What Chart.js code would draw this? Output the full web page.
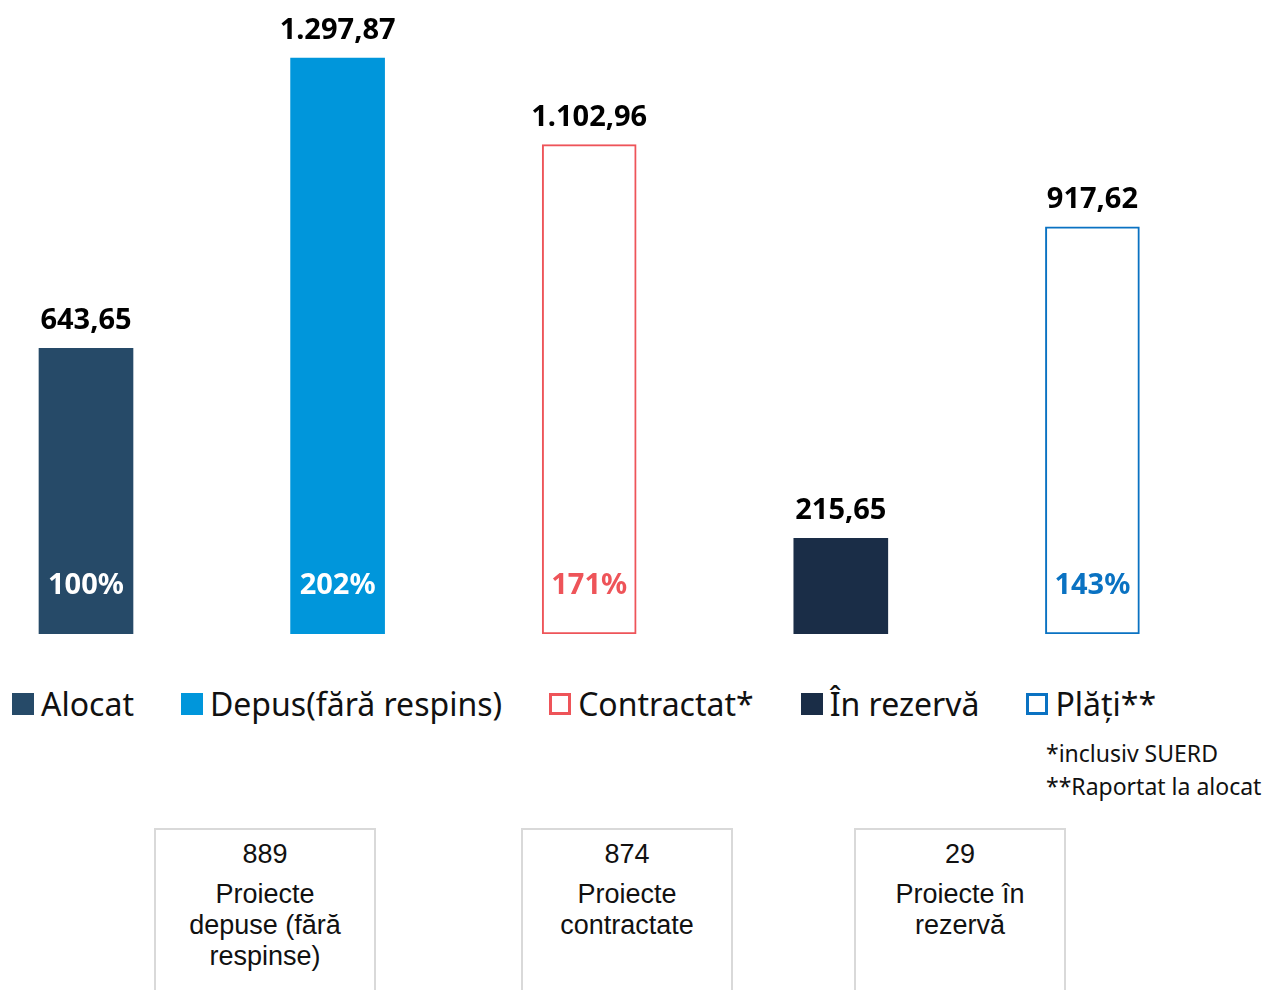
<!DOCTYPE html>
<html>
<head>
<meta charset="utf-8">
<script src="https://cdn.jsdelivr.net/npm/chart.js@4.4.1/dist/chart.umd.min.js"></script>
<style>
  html, body { margin: 0; padding: 0; background: #fff; overflow: hidden; }
  body { width: 1280px; height: 990px; position: relative; font-family: "Noto Sans", sans-serif; }
  #wrap { position: absolute; left: 0; top: 0; width: 1280px; height: 640px; }
  #legend { position: absolute; left: 12px; top: 682px; display: flex; gap: 47px; align-items: center; }
  .item { display: flex; align-items: center; gap: 7px; font-size: 32px; color: #111; line-height: 44px; }
  .sw { width: 22px; height: 22px; box-sizing: border-box; }
  #notes { position: absolute; left: 1046px; top: 737px; font-size: 23px; line-height: 33px; color: #111; }
  .box { position: absolute; top: 828px; height: 200px; border: 2px solid #d9d9d9; box-sizing: border-box;
         font-family: "Liberation Sans", Arial, sans-serif; font-size: 27px; line-height: 31px; text-align: center;
         color: #111; padding-top: 9px; }
  .box .num { margin-bottom: 9px; }
</style>
</head>
<body>
<div id="wrap"><canvas id="chart"></canvas></div>
<div id="legend"></div>
<div id="notes"><div>*inclusiv SUERD</div><div>**Raportat la alocat</div></div>
<div id="boxes"></div>
<script>
// datele graficului
const categories = ["Alocat", "Depus(fără respins)", "Contractat*", "În rezervă", "Plăți**"];
const values = [643.65, 1297.87, 1102.96, 215.65, 917.62];
const percents = [100, 202, 171, null, 143];
const fillColors = ["#264a68", "#0096db", "#ffffff", "#1a2d47", "#ffffff"];
const borderColors = ["#264a68", "#0096db", "#ee5459", "#1a2d47", "#0a72c2"];
const percentColors = ["#ffffff", "#ffffff", "#ee5459", "#ffffff", "#0a72c2"];
const borderWidths = [0, 0, 2, 0, 2];

const projectCounts = [889, 874, 29];
const projectLabels = ["Proiecte<br>depuse (fără<br>respinse)", "Proiecte<br>contractate", "Proiecte în<br>rezervă"];

function formatRo(v) {
  const parts = v.toFixed(2).split(".");
  const intPart = parts[0].replace(/\B(?=(\d{3})+(?!\d))/g, ".");
  return intPart + "," + parts[1];
}

// etichete cu valori deasupra si procente in interiorul barelor
const labelsPlugin = {
  id: "barLabels",
  afterDatasetsDraw(chart) {
    const ctx = chart.ctx;
    const meta = chart.getDatasetMeta(0);
    const zeroY = chart.scales.y.getPixelForValue(0);
    ctx.save();
    ctx.textAlign = "center";
    ctx.textBaseline = "alphabetic";
    ctx.font = "bold 29px 'Noto Sans'";
    meta.data.forEach((bar, i) => {
      ctx.fillStyle = "#000";
      ctx.fillText(formatRo(values[i]), bar.x, bar.y - 19);
      if (percents[i] !== null) {
        ctx.fillStyle = percentColors[i];
        ctx.fillText(percents[i] + "%", bar.x, zeroY - 40);
      }
    });
    ctx.restore();
  }
};

new Chart(document.getElementById("chart"), {
  type: "bar",
  data: {
    datasets: [{
      data: values.map((v, i) => ({ x: i, y: v })),
      backgroundColor: fillColors,
      borderColor: borderColors,
      borderWidth: borderWidths,
      barThickness: 94,
      borderSkipped: false
    }]
  },
  options: {
    responsive: true,
    maintainAspectRatio: false,
    animation: false,
    layout: { padding: { top: 0, bottom: 6, left: 0, right: 0 } },
    scales: {
      x: { type: "linear", min: -0.3418, max: 4.7456, offset: false, display: false },
      y: { min: 0, max: 1429, display: false }
    },
    plugins: { legend: { display: false }, tooltip: { enabled: false } }
  },
  plugins: [labelsPlugin]
});

// legenda
const legend = document.getElementById("legend");
categories.forEach((c, i) => {
  const item = document.createElement("div");
  item.className = "item";
  const sw = document.createElement("span");
  sw.className = "sw";
  if (borderWidths[i] > 0) {
    sw.style.border = "3px solid " + borderColors[i];
    sw.style.background = "#fff";
  } else {
    sw.style.background = fillColors[i];
  }
  const txt = document.createElement("span");
  txt.textContent = c;
  item.appendChild(sw);
  item.appendChild(txt);
  legend.appendChild(item);
});

// casetele cu numarul de proiecte
const boxLefts = [154, 521, 854];
const boxWidths = [222, 212, 212];
const boxes = document.getElementById("boxes");
projectCounts.forEach((n, i) => {
  const b = document.createElement("div");
  b.className = "box";
  b.style.left = boxLefts[i] + "px";
  b.style.width = boxWidths[i] + "px";
  b.innerHTML = '<div class="num">' + n + "</div>" + projectLabels[i];
  boxes.appendChild(b);
});
</script>
</body>
</html>
